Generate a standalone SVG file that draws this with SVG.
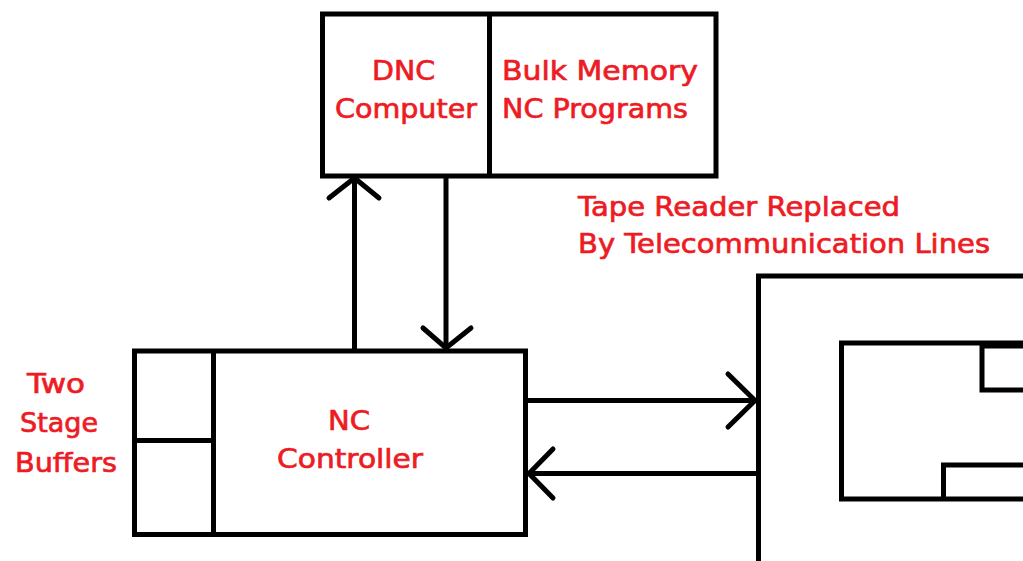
<svg xmlns="http://www.w3.org/2000/svg" width="1023" height="561" viewBox="0 0 1023 561">
<style>
.box{fill:none;stroke:#000;stroke-width:5}
.ln{fill:none;stroke:#000;stroke-width:5}
.ah{fill:none;stroke:#000;stroke-width:5;stroke-linecap:round;stroke-linejoin:miter}
.t{font-family:"DejaVu Sans","Liberation Sans",sans-serif;font-size:27px;fill:#ED1C24;stroke:#ED1C24;stroke-width:0.7}
</style>
<rect x="0" y="0" width="1023" height="561" fill="#fff"/>
<g id="dnc-computer">
<rect class="box" x="322.5" y="14" width="393.5" height="162"/>
<line class="ln" x1="489.5" y1="14" x2="489.5" y2="176"/>
<text class="t" x="372" y="80" textLength="63" lengthAdjust="spacingAndGlyphs">DNC</text>
<text class="t" x="335" y="118" textLength="142" lengthAdjust="spacingAndGlyphs">Computer</text>
<text class="t" x="502" y="80" textLength="196" lengthAdjust="spacingAndGlyphs">Bulk Memory</text>
<text class="t" x="502" y="118" textLength="186" lengthAdjust="spacingAndGlyphs">NC Programs</text>
</g>
<g id="nc-controller">
<rect class="box" x="134.5" y="351" width="391" height="183.5"/>
<line class="ln" x1="213.5" y1="351" x2="213.5" y2="534.5"/>
<line class="ln" x1="134.5" y1="440.5" x2="213.5" y2="440.5"/>
<text class="t" x="328" y="430" textLength="42" lengthAdjust="spacingAndGlyphs">NC</text>
<text class="t" x="277" y="468" textLength="146" lengthAdjust="spacingAndGlyphs">Controller</text>
</g>
<g id="buffers-label">
<text class="t" x="27" y="393" textLength="58" lengthAdjust="spacingAndGlyphs">Two</text>
<text class="t" x="20" y="432" textLength="78" lengthAdjust="spacingAndGlyphs">Stage</text>
<text class="t" x="15" y="472" textLength="102" lengthAdjust="spacingAndGlyphs">Buffers</text>
</g>
<g id="tape-label">
<text class="t" x="578" y="216" textLength="322" lengthAdjust="spacingAndGlyphs">Tape Reader Replaced</text>
<text class="t" x="578" y="253" textLength="412" lengthAdjust="spacingAndGlyphs">By Telecommunication Lines</text>
</g>
<g id="machine-tool">
<rect class="box" x="758.5" y="276" width="300" height="320"/>
<rect class="box" x="841.5" y="343" width="220" height="156"/>
<rect class="box" x="982" y="346" width="80" height="44"/>
<polyline class="ln" points="943.5,499 943.5,465 1030,465"/>
</g>
<g id="connectors">
<line class="ln" x1="354.5" y1="351" x2="354.5" y2="178"/>
<polyline class="ah" points="329,198 354.5,178 379,198"/>
<line class="ln" x1="446" y1="176" x2="446" y2="349"/>
<polyline class="ah" points="423,328 446,348 471,328"/>
<line class="ln" x1="528" y1="400.5" x2="756" y2="400.5"/>
<polyline class="ah" points="728,374 755,400.5 728,427"/>
<line class="ln" x1="756" y1="473.5" x2="528" y2="473.5"/>
<polyline class="ah" points="553,449 529,473.5 553,498"/>
</g>
</svg>
